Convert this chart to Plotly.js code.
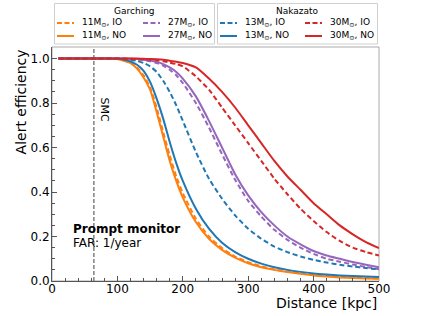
<!DOCTYPE html>
<html>
<head>
<meta charset="utf-8">
<script src="https://cdn.plot.ly/plotly-3.0.1.min.js"></script>
<style>html,body{margin:0;padding:0;background:#fff;}#chart{width:421px;height:316px;}</style>
</head>
<body>
<div id="chart"></div>
<script>
// Distance grid [kpc]
const distance = [10, 80, 100, 110, 120, 130, 140, 150, 160, 170, 180, 190, 200, 220, 240, 260, 280, 300, 320, 340, 360, 380, 400, 420, 440, 460, 480, 500];

// Garching models
const g11_IO = [1, 1, 0.998, 0.992, 0.982, 0.96, 0.925, 0.87, 0.78, 0.67, 0.565, 0.47, 0.395, 0.28, 0.2, 0.148, 0.11, 0.085, 0.066, 0.052, 0.042, 0.034, 0.027, 0.022, 0.018, 0.015, 0.013, 0.011];
const g11_NO = [1, 1, 0.998, 0.99, 0.98, 0.955, 0.915, 0.86, 0.76, 0.65, 0.54, 0.45, 0.375, 0.265, 0.19, 0.14, 0.105, 0.08, 0.062, 0.05, 0.04, 0.032, 0.025, 0.02, 0.016, 0.013, 0.011, 0.01];
const g27_IO = [1, 1, 1, 0.999, 0.998, 0.996, 0.993, 0.988, 0.98, 0.968, 0.95, 0.925, 0.89, 0.8, 0.69, 0.57, 0.455, 0.36, 0.29, 0.23, 0.185, 0.15, 0.122, 0.1, 0.087, 0.074, 0.063, 0.053];
const g27_NO = [1, 1, 1, 1, 0.999, 0.998, 0.995, 0.991, 0.985, 0.975, 0.96, 0.94, 0.91, 0.83, 0.72, 0.6, 0.48, 0.385, 0.31, 0.25, 0.2, 0.165, 0.135, 0.115, 0.1, 0.085, 0.073, 0.062];

// Nakazato models
const n13_IO = [1, 1, 0.999, 0.998, 0.995, 0.99, 0.98, 0.965, 0.94, 0.9, 0.85, 0.79, 0.72, 0.58, 0.46, 0.37, 0.295, 0.235, 0.19, 0.155, 0.13, 0.11, 0.095, 0.083, 0.073, 0.065, 0.058, 0.052];
const n13_NO = [1, 1, 0.999, 0.995, 0.987, 0.972, 0.945, 0.895, 0.82, 0.73, 0.625, 0.53, 0.45, 0.325, 0.235, 0.172, 0.13, 0.1, 0.078, 0.062, 0.05, 0.041, 0.034, 0.029, 0.025, 0.022, 0.02, 0.018];
const n30_IO = [1, 1, 1, 1, 0.999, 0.998, 0.997, 0.995, 0.992, 0.988, 0.982, 0.975, 0.965, 0.92, 0.86, 0.78, 0.7, 0.62, 0.54, 0.46, 0.39, 0.325, 0.27, 0.22, 0.18, 0.15, 0.13, 0.115];
const n30_NO = [1, 1, 1, 1, 1, 1, 0.999, 0.998, 0.997, 0.995, 0.99, 0.986, 0.98, 0.96, 0.91, 0.85, 0.78, 0.7, 0.62, 0.54, 0.47, 0.41, 0.35, 0.3, 0.25, 0.21, 0.175, 0.148];

// Legend labels
const legendTitles = ['Garching', 'Nakazato'];
const seriesNames = ['11M<sub>⊙</sub>, IO', '11M<sub>⊙</sub>, NO', '27M<sub>⊙</sub>, IO', '27M<sub>⊙</sub>, NO',
                     '13M<sub>⊙</sub>, IO', '13M<sub>⊙</sub>, NO', '30M<sub>⊙</sub>, IO', '30M<sub>⊙</sub>, NO'];
const seriesData = [g11_IO, g11_NO, g27_IO, g27_NO, n13_IO, n13_NO, n30_IO, n30_NO];

const smcDistance = 64;

const C_ORANGE = '#ff7f0e', C_PURPLE = '#9467bd', C_BLUE = '#1f77b4', C_RED = '#d62728';
const seriesColors = [C_ORANGE, C_ORANGE, C_PURPLE, C_PURPLE, C_BLUE, C_BLUE, C_RED, C_RED];
const DASH = '5px,3px';
const FONT = 'DejaVu Sans, sans-serif';

// geometry helpers (plot area: l=52, r=42, t=47, b=35 in a 421x316 page)
const L = 52, R = 42, T = 47, B = 35, W = 421, H = 316;
const PW = W - L - R, PH = H - T - B;
const px = X => (X - L) / PW;
const py = Y => (H - B - Y) / PH;

const traces = seriesData.map((y, i) => ({
  x: distance, y: y, name: seriesNames[i], type: 'scatter', mode: 'lines',
  line: {color: seriesColors[i], width: 2, dash: (i % 2 === 0) ? DASH : 'solid', shape: 'spline', smoothing: 0.6},
  showlegend: false
}));

// Manual two-box legend (matplotlib style)
const shapes = [
  {type: 'rect', xref: 'paper', yref: 'paper', x0: 0, x1: 1, y0: 0, y1: 1, line: {color: '#aaaaaa', width: 1}, layer: 'below'},
  {type: 'line', xref: 'x', yref: 'paper', x0: smcDistance, x1: smcDistance, y0: 0, y1: 1, line: {color: '#808080', width: 1.5, dash: '4px,2px'}, layer: 'below'}
];
const annotations = [];
const boxes = [{x0: 54.5, x1: 214.5, cols: [{lx: 57, tx: 80}, {lx: 143, tx: 166}]},
               {x0: 217.5, x1: 377.5, cols: [{lx: 220, tx: 243}, {lx: 305, tx: 328}]}];
const rowY = [23, 36];
boxes.forEach((b, bi) => {
  shapes.push({type: 'rect', xref: 'paper', yref: 'paper', x0: px(b.x0), x1: px(b.x1), y0: py(44), y1: py(3.5),
               line: {color: '#d0d0d0', width: 1}, fillcolor: 'rgba(255,255,255,0.9)', layer: 'above'});
  annotations.push({text: legendTitles[bi], xref: 'paper', yref: 'paper', x: px((b.x0 + b.x1) / 2), y: py(11),
                    xanchor: 'center', yanchor: 'middle', showarrow: false, font: {family: FONT, size: 9, color: '#000'}});
  for (let c = 0; c < 2; c++) {
    for (let r = 0; r < 2; r++) {
      const i = bi * 4 + c * 2 + r;
      const col = b.cols[c];
      shapes.push({type: 'line', xref: 'paper', yref: 'paper', x0: px(col.lx), x1: px(col.lx + 17), y0: py(rowY[r]), y1: py(rowY[r]),
                   line: {color: seriesColors[i], width: 2, dash: (r === 0) ? '5px,2.5px' : 'solid'}, layer: 'above'});
      annotations.push({text: seriesNames[i], xref: 'paper', yref: 'paper', x: px(col.tx), y: py(rowY[r]),
                        xanchor: 'left', yanchor: 'middle', showarrow: false, font: {family: FONT, size: 9, color: '#000'}});
    }
  }
});

annotations.push(
  {text: 'SMC', xref: 'x', yref: 'y', x: smcDistance + 3, y: 0.77, xanchor: 'left', yanchor: 'middle', textangle: 90, showarrow: false, font: {family: FONT, size: 11, color: '#000'}},
  {text: '<b>Prompt monitor</b>', xref: 'x', yref: 'y', x: 29, y: 0.232, xanchor: 'left', yanchor: 'middle', showarrow: false, font: {family: FONT, size: 12, color: '#000'}},
  {text: 'FAR: 1/year', xref: 'x', yref: 'y', x: 29, y: 0.172, xanchor: 'left', yanchor: 'middle', showarrow: false, font: {family: FONT, size: 12, color: '#000'}},
  {text: 'Alert efficiency', xref: 'paper', yref: 'paper', x: -0.095, y: 1.0, xanchor: 'center', yanchor: 'top', textangle: -90, showarrow: false, font: {family: FONT, size: 14, color: '#000'}},
  {text: 'Distance [kpc]', xref: 'paper', yref: 'paper', x: 1.0, y: -0.096, xanchor: 'right', yanchor: 'middle', showarrow: false, font: {family: FONT, size: 14, color: '#000'}}
);

const layout = {
  width: W, height: H,
  margin: {l: L, r: R, t: T, b: B, autoexpand: false},
  paper_bgcolor: '#fff', plot_bgcolor: '#fff',
  font: {family: FONT, color: '#000'},
  showlegend: false,
  xaxis: {
    range: [0, 500], dtick: 100, tick0: 0, showgrid: false, zeroline: false,
    showline: true, linecolor: '#555', linewidth: 1,
    ticks: 'inside', ticklen: 5, tickcolor: '#555', tickwidth: 1,
    ticklabelstandoff: -3,
    tickfont: {family: FONT, size: 12, color: '#000'},
    minor: {dtick: 20, ticks: 'inside', ticklen: 3, tickcolor: '#555', showgrid: false}
  },
  yaxis: {
    range: [0, 1.052], dtick: 0.2, tick0: 0, tickformat: '.1f', showgrid: false, zeroline: false,
    showline: true, linecolor: '#555', linewidth: 1,
    ticks: 'inside', ticklen: 5, tickcolor: '#555', tickwidth: 1,
    ticklabelstandoff: -1,
    tickfont: {family: FONT, size: 12, color: '#000'},
    minor: {dtick: 0.05, ticks: 'inside', ticklen: 3, tickcolor: '#555', showgrid: false}
  },
  shapes: shapes,
  annotations: annotations
};

Plotly.newPlot('chart', traces, layout, {displayModeBar: false, staticPlot: true});
</script>
</body>
</html>
